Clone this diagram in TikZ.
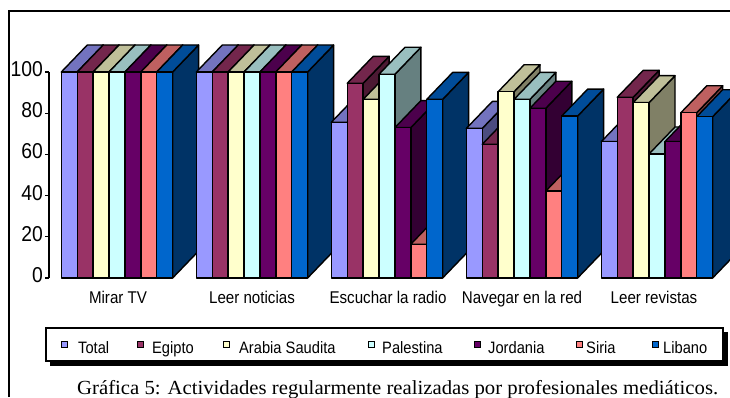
\documentclass[tikz,border=0pt]{standalone}
\usepackage{fontspec}
\usepackage{graphicx}
\setmainfont{Liberation Serif}
\newfontfamily\chartfont{Liberation Sans}
\newfontfamily\chartfontn[FakeStretch=0.89]{Liberation Sans}
\newfontfamily\chartfonty[FakeStretch=0.9]{Liberation Sans}
\definecolor{c0}{HTML}{9999FF}
\definecolor{c1}{HTML}{993366}
\definecolor{c2}{HTML}{FFFFCC}
\definecolor{c3}{HTML}{CCFFFF}
\definecolor{c4}{HTML}{660066}
\definecolor{c5}{HTML}{FF8080}
\definecolor{c6}{HTML}{0066CC}
\tikzset{
  barline/.style={draw=black, line width=1.4pt, line join=round},
  axisline/.style={draw=black, line width=1.2pt},
  ylab/.style={anchor=east, inner sep=0pt, font=\chartfonty\fontsize{21.5}{24}\selectfont},
  catlab/.style={anchor=base, inner sep=0pt, font=\chartfontn\fontsize{17}{20}\selectfont},
  legtext/.style={anchor=base west, inner sep=0pt, font=\chartfontn\fontsize{16.5}{18}\selectfont},
  legmark/.style={draw=black, line width=1pt, minimum size=6pt, inner sep=0pt},
}
\newcommand\drawbar[4]{%
  \pgfmathsetmacro\barx{#1}%
  \pgfmathsetmacro\bary{119+2.06*#3}%
  \filldraw[barline, fill=#4!50!black] ({\barx+#2},119) -- ({\barx+#2+26},146) -- ({\barx+#2+26},{\bary+27}) -- ({\barx+#2},\bary) -- cycle;
  \filldraw[barline, fill=#4!75!black] (\barx,\bary) -- ({\barx+26},{\bary+27}) -- ({\barx+#2+26},{\bary+27}) -- ({\barx+#2},\bary) -- cycle;
  \filldraw[barline, fill=#4] (\barx,119) rectangle ({\barx+#2},\bary);
}
\begin{document}
\begin{tikzpicture}[x=1pt,y=1pt]
\clip (0,0) rectangle (730,397);
\fill[white] (0,0) rectangle (730,397);
% frame
\draw[line width=1.3pt] (9,0) -- (9,386) -- (731,386);
% bars
\foreach \g/\vals in {0/{100,100,100,100,100,100,100},
                      1/{100,100,100,100,100,100,100},
                      2/{75.6,94.5,86.7,98.9,73,16.4,86.7},
                      3/{72.6,64.9,90.4,86.7,82.4,42.2,78.6},
                      4/{66.2,87.7,85.1,60.2,66.2,80.2,78.3}} {
  \foreach \v [count=\i from 0] in \vals {
    \drawbar{61.3+135*\g+15.9*\i}{15.9}{\v}{c\i}
  }
}
% y axis
\draw[axisline] (49,119) -- (49,325);
\foreach \t in {0,20,...,100} {
  \draw[axisline] (45,{119+2.06*\t}) -- (49,{119+2.06*\t});
  \node[ylab] (yl\t) at (43,{122+2.06*\t}) {\t};
}
% category labels
\node[catlab] (cat1) at (118,94) {Mirar TV};
\node[catlab] (cat2) at (252,94) {Leer noticias};
\node[catlab] (cat3) at (388,94) {Escuchar la radio};
\node[catlab] (cat4) at (522,94) {Navegar en la red};
\node[catlab] (cat5) at (654,94) {Leer revistas};
% legend
\fill[black] (50,31) rectangle (728,65);
\draw[fill=white, line width=1.2pt] (46,36) rectangle (723,69);
\node[legmark, fill=c0] (m0) at (64.5,53) {};
\node[legtext] (t0) at (78,44) {Total};
\node[legmark, fill=c1] (m1) at (140,53) {};
\node[legtext] (t1) at (152,44) {Egipto};
\node[legmark, fill=c2] (m2) at (226,53) {};
\node[legtext] (t2) at (239,44) {Arabia Saudita};
\node[legmark, fill=c3] (m3) at (371,53) {};
\node[legtext] (t3) at (382,44) {Palestina};
\node[legmark, fill=c4] (m4) at (477,53) {};
\node[legtext] (t4) at (488,44) {Jordania};
\node[legmark, fill=c5] (m5) at (579,53) {};
\node[legtext] (t5) at (586,44) {Siria};
\node[legmark, fill=c6] (m6) at (655,53) {};
\node[legtext] (t6) at (663,44) {Libano};
% caption
\node[anchor=base west, inner sep=0pt] (cap) at (77,3) {\resizebox{641pt}{\height}{\fontsize{20}{22}\selectfont Gráfica 5: Actividades regularmente realizadas por profesionales mediáticos.}};
\end{tikzpicture}
\end{document}
